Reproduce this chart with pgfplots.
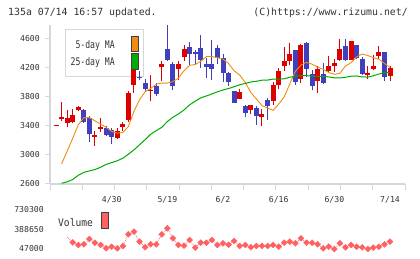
\documentclass[border=0pt]{standalone}
\usepackage{fontspec}
\setmainfont{DejaVu Sans Mono}
\usepackage{graphicx}
\usepackage{pgfplots}
\usepackage{pgfplotstable}
\pgfplotsset{compat=1.18}
\definecolor{cred}{RGB}{221,0,0}
\definecolor{cblue}{RGB}{64,64,190}
\definecolor{corange}{RGB}{240,140,20}
\definecolor{cgreen}{RGB}{0,170,0}
\definecolor{cvol}{RGB}{255,96,96}
\definecolor{axgray}{RGB}{215,215,215}
\definecolor{txt}{RGB}{50,50,50}

\pgfplotstableread{
i O H L C
0 3403 3417 3403 3417
1 3491 3725 3463 3518
2 3436 3619 3390 3505
3 3450 3633 3436 3555
4 3615 3679 3601 3656
7 3250 3326 3120 3280
8 3355 3509 3312 3380
11 3235 3372 3220 3330
12 3385 3454 3335 3420
13 3475 3885 3454 3860
14 3968 4260 3860 4190
17 3878 4105 3748 3900
19 4206 4288 4013 4256
22 4183 4288 4036 4256
23 4343 4517 4288 4462
33 3775 3908 3775 3867
35 3624 3692 3569 3692
37 3518 3633 3395 3569
39 3738 4000 3692 3968
40 3958 4197 3908 4160
41 4220 4481 4160 4298
42 4288 4540 4242 4394
44 4045 4531 3990 4518
47 4013 4220 3853 4183
49 4151 4366 4128 4229
50 4220 4320 4137 4265
51 4311 4595 4298 4463
53 4311 4572 4302 4572
56 4096 4220 4050 4128
57 4183 4380 4165 4229
58 4357 4504 4320 4417
60 4082 4220 4022 4197
}\upT

\pgfplotstableread{
i O H L C
5 3615 3637 3440 3450
6 3515 3530 3175 3285
9 3365 3395 3257 3270
10 3340 3372 3156 3245
15 4080 4160 4036 4060
16 3990 4050 3876 3915
18 3955 3990 3807 3845
20 4462 4790 4288 4311
21 4252 4279 3899 3945
24 4485 4554 4242 4394
25 4417 4449 4256 4394
26 4471 4655 4197 4302
27 4252 4334 4059 4206
28 4252 4586 4036 4190
29 4471 4508 4252 4334
30 4334 4389 4000 4128
31 4128 4142 3945 4000
32 3885 3885 3715 3715
34 3679 3692 3518 3578
36 3647 3670 3418 3532
38 3761 3784 3486 3670
43 4449 4449 3958 4000
45 4540 4550 4073 4183
46 4119 4174 3890 3945
48 4119 4265 3977 3990
52 4504 4595 4300 4311
54 4518 4518 4320 4334
55 4320 4343 4105 4119
59 4417 4417 4013 4073
}\downT

\pgfplotstableread{
i ma5 ma25
1 2877 2610
2 3050 2630
3 3230 2661
4 3415 2720
5 3515 2760
6 3515 2780
7 3470 2799
8 3425 2830
9 3380 2870
10 3325 2895
11 3300 2920
12 3310 2955
13 3390 3010
14 3600 3070
15 3760 3140
16 3870 3210
17 3915 3285
18 3975 3335
19 3990 3380
20 3990 3460
21 4010 3520
22 4060 3565
23 4160 3620
24 4235 3690
25 4245 3740
26 4290 3787
27 4355 3812
28 4357 3840
29 4340 3870
30 4320 3895
31 4260 3915
32 4160 3940
33 4100 3967
34 4000 3985
35 3860 4005
36 3770 4015
37 3680 4030
38 3647 4031
39 3615 4045
40 3700 4045
41 3800 4050
42 3980 4070
43 4150 4085
44 4240 4092
45 4275 4092
46 4250 4085
47 4210 4082
48 4180 4082
49 4135 4075
50 4110 4062
51 4125 4060
52 4225 4070
53 4270 4085
54 4350 4088
55 4390 4075
56 4370 4073
57 4340 4090
58 4320 4115
59 4260 4130
60 4205 4137
}\maT

\pgfplotstableread{
i v
2 253000
3 162000
4 116000
5 128000
6 219000
7 155000
8 116000
9 59000
10 87000
11 59000
12 99000
13 300000
14 345000
15 173000
16 76000
17 128000
18 128000
19 300000
20 403000
21 231000
22 116000
23 104000
24 202000
25 70000
26 155000
27 155000
28 202000
29 116000
30 145000
31 120000
32 185000
33 99000
34 116000
35 76000
36 99000
37 99000
38 99000
39 116000
40 87000
41 155000
42 173000
43 145000
44 231000
45 155000
46 155000
47 128000
48 59000
49 87000
50 47000
51 145000
52 76000
53 116000
54 87000
55 76000
56 47000
57 70000
58 87000
59 128000
60 173000
}\volT

\begin{document}
\begin{tikzpicture}[x=1bp,y=1bp]
\path[use as bounding box] (0,0) rectangle (420,259);
% header
\node[anchor=west, inner sep=0, text=txt] at (8,246.3) {\fontsize{9.9}{11}\selectfont 135a 07/14 16:57 updated.};
\node[anchor=east, inner sep=0, text=txt] at (408,246.3) {\fontsize{9.9}{11}\selectfont (C)https://www.rizumu.net/};
% legend box (behind the plot)
\draw[axgray, line width=1bp] (65,182) rectangle (143,229);
\node[anchor=east, inner sep=0, text=txt] at (115,213) {\scalebox{0.78}[1]{\fontsize{10.5}{12}\selectfont 5-day MA}};
\node[anchor=east, inner sep=0, text=txt] at (115,196) {\scalebox{0.78}[1]{\fontsize{10.5}{12}\selectfont 25-day MA}};

\begin{axis}[
  at={(50bp,75bp)}, anchor=south west, scale only axis,
  width=355bp, height=159bp,
  xmin=-1.078, xmax=62.69, ymin=2600, ymax=4790,
  axis x line*=bottom, axis y line*=left,
  axis line style={axgray, line width=1.2bp, -},
  xtick={10,20,30,40,50,60},
  xticklabels={4/30,5/19,6/2,6/16,6/30,7/14},
  minor xtick={-1.078,4.719,10.516,16.31,22.11,27.91,33.70,39.50,45.30,51.09,56.89,62.69},
  ytick={2600,3000,3400,3800,4200,4600},
  yticklabels={2600,3000,3400,3800,4200,4600},
  scaled y ticks=false,
  tick align=outside, major tick length=5bp, minor tick length=6bp,
  tick style={axgray, line width=1bp},
  major x tick style={draw=none},
  /pgf/number format/assume math mode=true,
  yticklabel style={font=\fontsize{8.2}{9}\selectfont, text=txt, inner sep=0pt, xshift=-5bp},
  xticklabel style={font=\fontsize{8.2}{9}\selectfont, text=txt, inner sep=0pt, yshift=-7bp},
  clip=true,
]
% wicks
\addplot[draw=none, mark=none, forget plot, error bars/.cd, y dir=plus, y explicit, error mark=none,
  error bar style={draw=cred, line width=1bp, solid}]
  table[x=i, y=L, y error plus expr=\thisrow{H}-\thisrow{L}] {\upT};
\addplot[draw=none, mark=none, forget plot, error bars/.cd, y dir=plus, y explicit, error mark=none,
  error bar style={draw=cblue, line width=1bp, solid}]
  table[x=i, y=L, y error plus expr=\thisrow{H}-\thisrow{L}] {\downT};
% bodies
\addplot[draw=none, mark=none, forget plot, error bars/.cd, y dir=plus, y explicit, error mark=none,
  error bar style={draw=cred, line width=5bp, solid}]
  table[x=i, y=O, y error plus expr=\thisrow{C}-\thisrow{O}] {\upT};
\addplot[draw=none, mark=none, forget plot, error bars/.cd, y dir=plus, y explicit, error mark=none,
  error bar style={draw=cblue, line width=5bp, solid}]
  table[x=i, y=C, y error plus expr=\thisrow{O}-\thisrow{C}] {\downT};
% moving averages
\addplot[corange, line width=0.9bp, mark=none] table[x=i, y=ma5] {\maT};
\addplot[cgreen, line width=1bp, mark=none] table[x=i, y=ma25] {\maT};
\end{axis}
% legend swatches
\filldraw[fill=corange, draw=black!75, line width=1bp] (131,207) rectangle (138,222);
\filldraw[fill=cgreen, draw=black!75, line width=1bp] (131,189) rectangle (138,205);

\begin{axis}[
  at={(50bp,10bp)}, anchor=south west, scale only axis,
  width=355bp, height=39.7bp,
  xmin=-1.078, xmax=62.69, ymin=47000, ymax=730300,
  axis x line=none, axis y line*=left,
  y axis line style={draw=none},
  ytick={47000,388650,730300},
  yticklabels={47000,388650,730300},
  scaled y ticks=false,
  major tick length=0pt,
  /pgf/number format/assume math mode=true,
  yticklabel style={font=\fontsize{8.2}{9}\selectfont, text=txt, inner sep=0pt, xshift=-6bp},
  clip=false,
]
\addplot[cvol, densely dotted, line width=0.7bp, mark=none] table[x=i, y=v] {\volT};
\addplot[only marks, mark=square*, mark size=2.1bp, mark options={rotate=45, fill=cvol, draw=cvol},
  restrict x to domain=2.5:61] table[x=i, y=v] {\volT};
\end{axis}
\node[anchor=west, inner sep=0, text=txt] at (58,36.7) {\scalebox{0.92}[1]{\fontsize{10.5}{12}\selectfont Volume}};
\filldraw[fill=cvol, draw=black!75, line width=1bp] (101,30) rectangle (108,46);
\end{tikzpicture}
\end{document}
